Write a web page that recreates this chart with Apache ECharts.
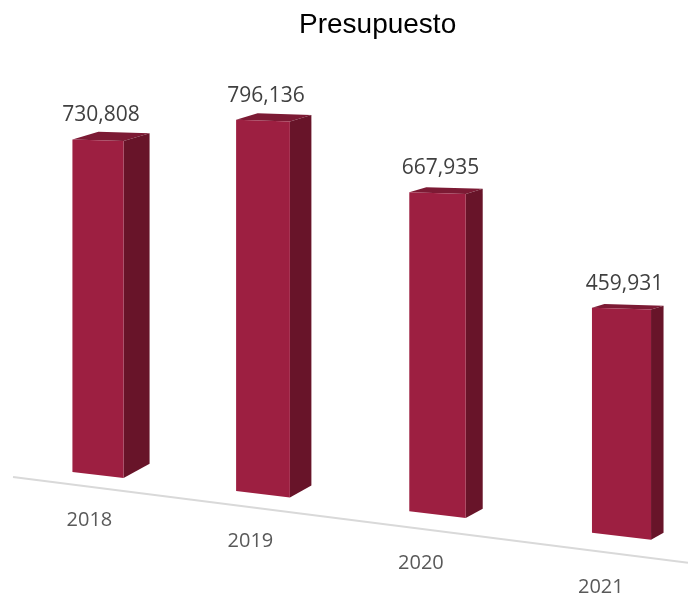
<!DOCTYPE html>
<html>
<head>
<meta charset="utf-8">
<script src="https://cdn.jsdelivr.net/npm/echarts@6/dist/echarts.min.js"></script>
<style>
  html, body { margin: 0; padding: 0; background: #fff; }
  #main { width: 688px; height: 601px; }
</style>
</head>
<body>
<div id="main"></div>
<script>
const years = ['2018', '2019', '2020', '2021'];
const budget = [730808, 796136, 667935, 459931];

const FRONT = '#9d1f41';
const SIDE = '#681429';
const TOP = '#7c1a34';

const chart = echarts.init(document.getElementById('main'));

function fmt(v) {
  return v.toLocaleString('en-US');
}

// dibuja cada barra como caja 3D inclinada (con algo de perspectiva)
function renderBar(params, api) {
  const i = params.dataIndex;
  const cs = params.coordSys;
  const base = api.coord([i, 0]);
  const top = api.coord([i, api.value(1)]);
  const band = api.size([1, 0])[0];
  const w = band * (0.31 + 0.016 * i);
  const cx = base[0] + 4.75 * i * (i - 1);
  const x = cx - w / 2;
  const yb = base[1] + 0.117 * (x - cs.x);
  const h = (base[1] - top[1]) * (1 + 0.025 * i);
  const yt = yb - h;
  const d = 26 - 4.5 * i;

  const bl = [x, yb];
  const br = [x + w, yb + 0.117 * w];
  const tr = [x + w, yt + 0.03 * w];
  const tl = [x, yt];

  const children = [
    {
      type: 'polygon',
      shape: { points: [tl, tr, [tr[0] + d, tr[1] - 0.3 * d], [tl[0] + d, tl[1] - 0.3 * d]] },
      style: { fill: TOP }
    },
    {
      type: 'polygon',
      shape: { points: [tr, br, [br[0] + d, br[1] - 0.55 * d], [tr[0] + d, tr[1] - 0.3 * d]] },
      style: { fill: SIDE }
    },
    {
      type: 'polygon',
      shape: { points: [bl, br, tr, tl] },
      style: { fill: FRONT }
    },
    {
      type: 'text',
      style: {
        x: x + w / 2 + 3, y: yt - 24,
        text: fmt(api.value(1)),
        align: 'center', verticalAlign: 'middle',
        fill: '#404040', font: '21px "Open Sans"'
      }
    },
    {
      type: 'text',
      style: {
        x: x + 17 - 2.7 * i, y: yb + 48 + 2.2 * i,
        text: years[i],
        align: 'center', verticalAlign: 'middle',
        fill: '#595959', font: '20px "Open Sans"'
      }
    }
  ];

  if (i === 0) {
    const x1 = 13;
    const x2 = api.getWidth();
    const y1 = base[1] + 0.117 * (x1 - cs.x) + 12;
    children.unshift({
      type: 'line',
      shape: { x1: x1, y1: y1, x2: x2, y2: y1 + 0.127 * (x2 - x1) },
      style: { stroke: '#d9d9d9', lineWidth: 2 }
    });
  }
  return { type: 'group', children: children };
}

const option = {
  backgroundColor: '#fff',
  animation: false,
  title: {
    text: 'Presupuesto',
    left: 294,
    top: 6,
    textStyle: { fontFamily: 'Liberation Sans', fontSize: 28, fontWeight: 'normal', color: '#000' }
  },
  grid: { left: 15.5, width: 660, top: 10.3, bottom: 135.7 },
  xAxis: { type: 'category', data: years, show: false },
  yAxis: { type: 'value', min: 0, max: 1000000, show: false },
  series: [{
    type: 'custom',
    renderItem: renderBar,
    encode: { x: 0, y: 1 },
    clip: false,
    data: budget.map((v, i) => [i, v])
  }]
};

chart.setOption(option);
</script>
</body>
</html>
